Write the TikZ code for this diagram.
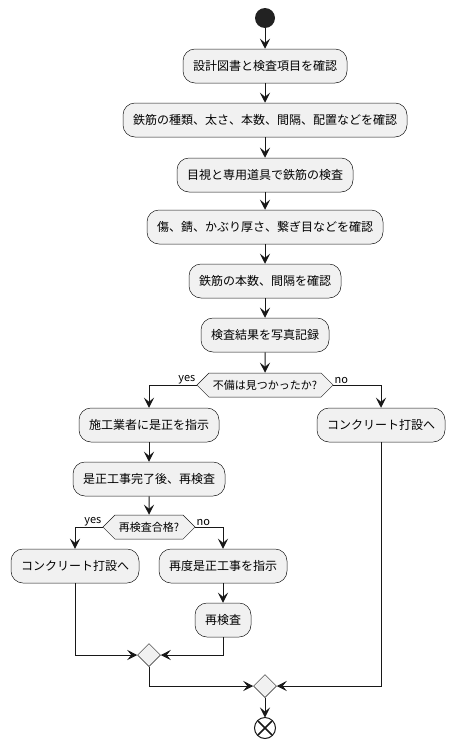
\documentclass[tikz,border=0pt]{standalone}
\usepackage{fontspec}
\setmainfont{Noto Sans CJK JP}
\usepackage{tikz}
\usetikzlibrary{calc}
\usetikzlibrary{arrows.meta}
\usetikzlibrary{shapes.symbols}
\usetikzlibrary{shapes.geometric}
\usepackage{color}
\definecolor{boxfill}{HTML}{F1F1F1}
\definecolor{boxline}{HTML}{181818}
\definecolor{startdot}{HTML}{222222}
\tikzset{
  act/.style={draw=boxline, fill=boxfill, line width=0.5pt, rounded corners=12pt,
              minimum height=34pt, inner xsep=10pt, font=\fontsize{12pt}{14pt}\selectfont},
  cond/.style={draw=boxline, fill=boxfill, line width=0.5pt, shape=signal,
               signal to=west and east, signal pointer angle=90,
               minimum height=24pt, inner xsep=4pt, inner ysep=2pt, font=\fontsize{11pt}{13pt}\selectfont},
  merge/.style={draw=boxline, fill=boxfill, line width=0.5pt, diamond,
                minimum size=23pt, inner sep=0pt},
  lbl/.style={font=\fontsize{11pt}{12pt}\selectfont, inner sep=1pt},
  flow/.style={draw=boxline, line width=1pt, -{Stealth[length=10pt,width=10pt,inset=4pt]}},
  wire/.style={draw=boxline, line width=1pt}
}
\begin{document}
\begin{tikzpicture}[x=1pt, y=-1pt]
  \useasboundingbox (0,0) rectangle (455,747);
  \fill[startdot] (265,18) circle (10) coordinate (start);
  \node[act] (design)  at (265, 66)  {設計図書と検査項目を確認};
  \node[act] (kind)    at (265,120)  {鉄筋の種類、太さ、本数、間隔、配置などを確認};
  \node[act] (visual)  at (265,175)  {目視と専用道具で鉄筋の検査};
  \node[act] (flaw)    at (265,227)  {傷、錆、かぶり厚さ、繋ぎ目などを確認};
  \node[act] (count)   at (265,281)  {鉄筋の本数、間隔を確認};
  \node[act] (photo)   at (265,335)  {検査結果を写真記録};
  \node[cond] (found)  at (265,385)  {不備は見つかったか?};
  \node[act] (order)   at (149,425)  {施工業者に是正を指示};
  \node[act] (pourA)   at (381,425)  {コンクリート打設へ};
  \node[act] (recheck) at (149,479)  {是正工事完了後、再検査};
  \node[cond] (pass)   at (149,527)  {再検査合格?};
  \node[act] (pourB)   at ( 75,566)  {コンクリート打設へ};
  \node[act] (again)   at (223,566)  {再度是正工事を指示};
  \node[act] (retest)  at (223,620)  {再検査};
  \node[merge] (joinA) at (149,655)  {};
  \node[merge] (joinB) at (265,686)  {};
  \draw[boxline, fill=white, line width=1pt] (265,728) circle (10.5) coordinate (stop);
  \draw[boxline, line width=1.6pt] ($(stop)+(-7,-7)$) -- ($(stop)+(7,7)$)
                                   ($(stop)+(-7,7)$) -- ($(stop)+(7,-7)$);

  \draw[flow] (start) ++(0,10) -- (design);
  \draw[flow] (design) -- (kind);
  \draw[flow] (kind) -- (visual);
  \draw[flow] (visual) -- (flaw);
  \draw[flow] (flaw) -- (count);
  \draw[flow] (count) -- (photo);
  \draw[flow] (photo) -- (found);
  \draw[flow] (found.west) -| (order.north);
  \draw[flow] (found.east) -| (pourA.north);
  \node[lbl, anchor=south east] at (found.west) {yes};
  \node[lbl, anchor=south west] at (found.east) {no};
  \draw[flow] (order) -- (recheck);
  \draw[flow] (recheck) -- (pass);
  \draw[flow] (pass.west) -| (pourB.north);
  \draw[flow] (pass.east) -| (again.north);
  \node[lbl, anchor=south east] at (pass.west) {yes};
  \node[lbl, anchor=south west] at (pass.east) {no};
  \draw[flow] (again) -- (retest);
  \draw[flow] (pourB.south) |- (joinA.west);
  \draw[flow] (retest.south) |- (joinA.east);
  \draw[flow] (joinA.south) |- (joinB.west);
  \draw[flow] (pourA.south) |- (joinB.east);
  \draw[flow] (joinB.south) -- ($(stop)+(0,-10.5)$);
\end{tikzpicture}
\end{document}
